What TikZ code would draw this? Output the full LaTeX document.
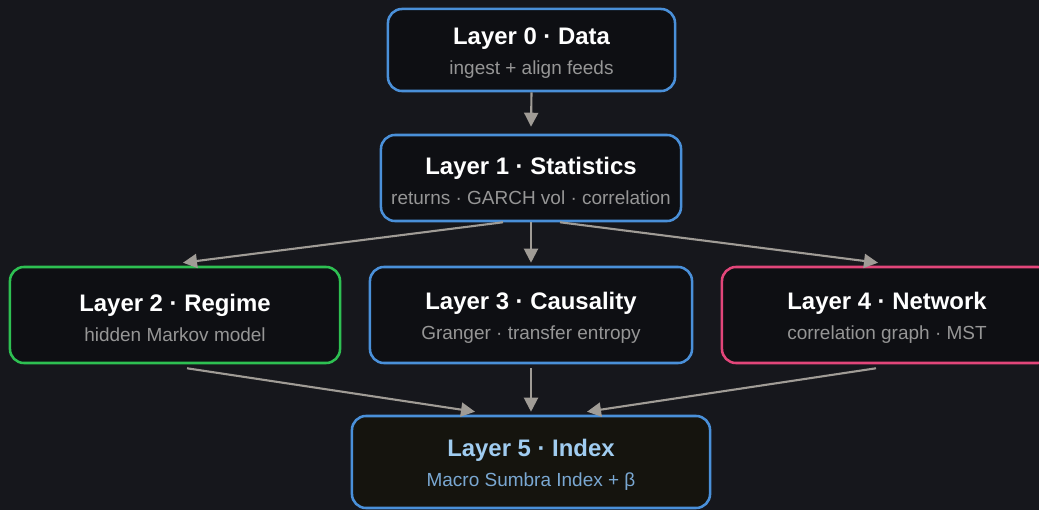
\documentclass[tikz,border=0pt]{standalone}
\usepackage{fontspec}
\setmainfont{Liberation Sans}
\usetikzlibrary{arrows.meta,positioning}

\definecolor{bgcol}{RGB}{22,23,28}
\definecolor{boxfill}{RGB}{14,15,19}
\definecolor{idxfill}{RGB}{21,20,14}
\definecolor{blueline}{RGB}{74,144,217}
\definecolor{greenline}{RGB}{46,192,82}
\definecolor{pinkline}{RGB}{226,70,122}
\definecolor{arrcol}{RGB}{160,156,150}
\definecolor{subcol}{RGB}{150,150,150}
\definecolor{idxtitle}{RGB}{160,204,240}
\definecolor{idxsub}{RGB}{122,168,210}

\newcommand{\layer}[2]{{\fontsize{17}{20}\bfseries\rule{0pt}{16.5pt}#1}\\[7pt]{\fontsize{13.5}{16}\selectfont\color{subcol}#2}}

\begin{document}
\begin{tikzpicture}[x=0.025cm,y=-0.025cm,
		box/.style={draw=blueline,fill=boxfill,line width=1.8pt,rounded corners=0.35cm,
			align=center,text=white,inner sep=0pt},
		arr/.style={draw=arrcol,line width=1.5pt,-{Triangle[length=0.35cm,width=0.35cm]}}
	]

	\fill[bgcol] (0,0) rectangle (1039,510);
	\useasboundingbox (0,0) rectangle (1039,510);

	\node[box,minimum width=7.175cm,minimum height=2.05cm] (l0) at (531.5,50) {\layer{Layer 0 · Data}{ingest + align feeds}};
	\node[box,minimum width=7.5cm,minimum height=2.15cm] (l1) at (531,178) {\layer{Layer 1 · Statistics}{returns · GARCH vol · correlation}};

	\node[box,draw=greenline,minimum width=8.25cm,minimum height=2.4cm] (l2) at (175,315) {\layer{Layer 2 · Regime}{hidden Markov model}};
	\node[box,minimum width=8.05cm,minimum height=2.4cm] (l3) at (531,315) {\layer{Layer 3 · Causality}{Granger · transfer entropy}};
	\node[box,draw=pinkline,minimum width=8.25cm,minimum height=2.4cm] (l4) at (887,315) {\layer{Layer 4 · Network}{correlation graph · MST}};

	\node[box,fill=idxfill,minimum width=8.95cm,minimum height=2.3cm] (l5) at (531,462)
		{{\fontsize{17}{20}\bfseries\color{idxtitle}\rule{0pt}{16.5pt}Layer 5 · Index}\\[7pt]{\fontsize{13.5}{16}\selectfont\color{idxsub}Macro Sumbra Index + β}};

	\draw[arr] (l0.south) -- ([yshift=0.175cm]l1.north);

	\draw[arr] ([xshift=-0.7cm]l1.south) -- ([xshift=0.2cm,yshift=0.075cm]l2.north);
	\draw[arr] (l1.south) -- ([yshift=0.075cm]l3.north);
	\draw[arr] ([xshift=0.725cm]l1.south) -- ([xshift=-0.225cm,yshift=0.075cm]l4.north);

	\draw[arr] ([xshift=0.3cm,yshift=-0.1cm]l2.south) -- ([xshift=-1.4cm,yshift=0.075cm]l5.north);
	\draw[arr] ([yshift=-0.1cm]l3.south) -- ([yshift=0.075cm]l5.north);
	\draw[arr] ([xshift=-0.275cm,yshift=-0.1cm]l4.south) -- ([xshift=1.4cm,yshift=0.075cm]l5.north);
\end{tikzpicture}
\end{document}
